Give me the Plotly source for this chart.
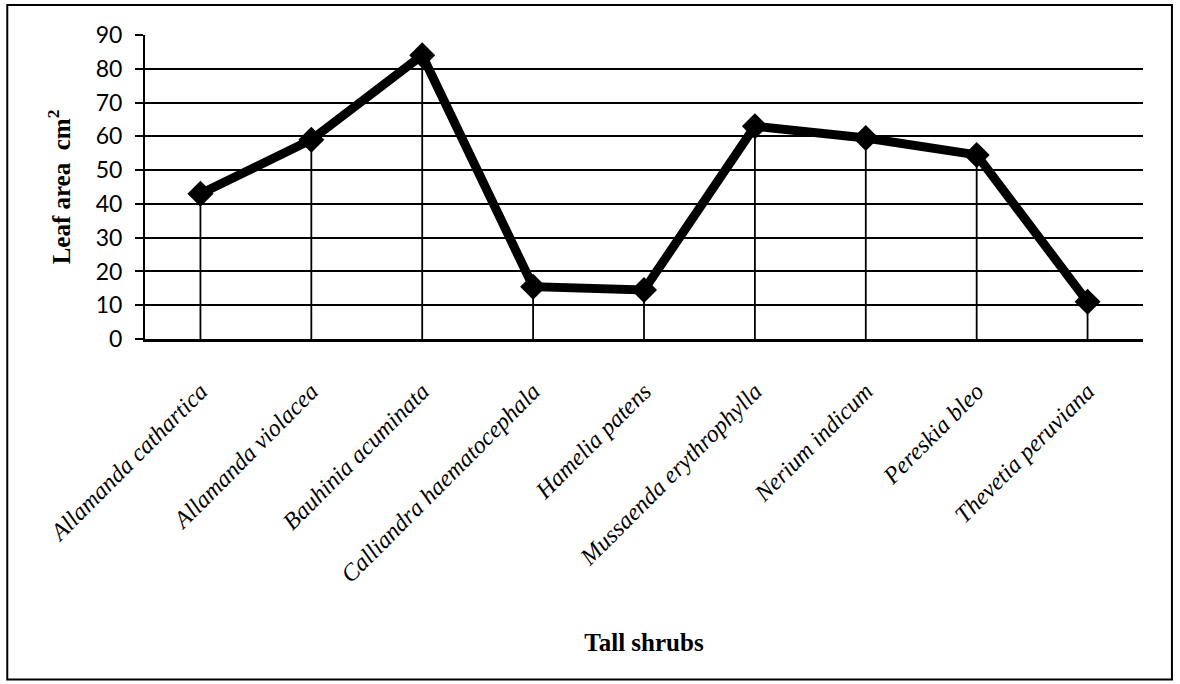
import plotly.graph_objects as go

# Leaf area of tall shrub species
species = [
    "Allamanda cathartica",
    "Allamanda violacea",
    "Bauhinia acuminata",
    "Calliandra haematocephala",
    "Hamelia patens",
    "Mussaenda erythrophylla",
    "Nerium indicum",
    "Pereskia bleo",
    "Thevetia peruviana",
]
leaf_area = [43, 59, 84, 15.5, 14.5, 63, 59.5, 54.5, 11]
y_ticks = [0, 10, 20, 30, 40, 50, 60, 70, 80, 90]

fig = go.Figure()

fig.add_trace(go.Scatter(
    x=species,
    y=leaf_area,
    mode="lines+markers",
    line=dict(color="black", width=9),
    marker=dict(symbol="diamond", size=20, color="black"),
    # thin drop lines from each point down to the axis
    error_y=dict(
        type="data",
        symmetric=False,
        array=[0] * len(leaf_area),
        arrayminus=leaf_area,
        color="black",
        thickness=1.8,
        width=0,
    ),
    showlegend=False,
    hoverinfo="x+y",
))

fig.update_layout(
    width=1180,
    height=684,
    margin=dict(l=145, r=37, t=35, b=345),
    paper_bgcolor="white",
    plot_bgcolor="white",
    xaxis=dict(
        range=[-0.5, len(species) - 0.5],
        tickangle=-45,
        tickfont=dict(family="Liberation Serif", size=24, color="black", style="italic"),
        ticklabelstandoff=26,
        showgrid=False,
        showline=True,
        linecolor="black",
        linewidth=2.5,
        ticks="",
        title=dict(
            text="<b>Tall shrubs</b>",
            font=dict(family="Liberation Serif", size=25, color="black"),
            standoff=48,
        ),
        zeroline=False,
    ),
    yaxis=dict(
        range=[0, 90],
        tickvals=y_ticks,
        ticktext=[str(v) for v in y_ticks],
        tickfont=dict(family="Lato", size=23, color="black"),
        ticklabelstandoff=8,
        showgrid=True,
        gridcolor="black",
        gridwidth=2,
        showline=True,
        linecolor="black",
        linewidth=2,
        ticks="outside",
        ticklen=8,
        tickwidth=2,
        tickcolor="black",
        zeroline=False,
        title=dict(
            text="<b>Leaf area&nbsp;&nbsp;cm<sup>2</sup></b>",
            font=dict(family="Liberation Serif", size=25, color="black"),
            standoff=18,
        ),
    ),
    shapes=[
        # frame around the whole chart
        dict(type="rect", xref="paper", yref="paper",
             x0=-0.138, x1=1.029, y0=-1.12, y1=1.099,
             line=dict(color="black", width=2), fillcolor="rgba(0,0,0,0)",
             layer="below"),
    ],
)

fig.write_html("out.html")
